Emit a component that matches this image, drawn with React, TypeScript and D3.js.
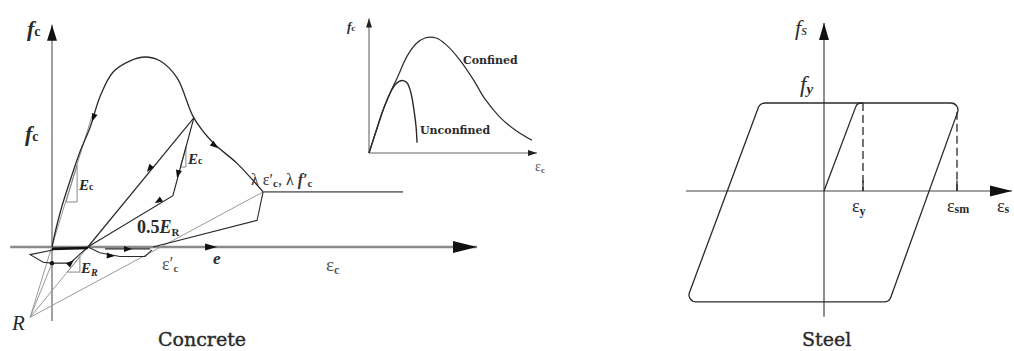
import React from "react";
import * as d3 from "d3";

type P = [number, number];

// ---------- Concrete: hysteretic model (strain in units of ε0/… , stress normalised by f'cc) ----------
const concreteEnvelope: P[] = [
  [0, 0], [0.09, 0.1], [0.22, 0.22], [0.39, 0.35], [0.6, 0.5], [0.82, 0.63],
  [1.03, 0.79], [1.31, 0.92], [1.68, 0.98], [2.0, 1.0], [2.32, 0.98],
  [2.69, 0.89], [3.05, 0.68], [3.46, 0.55], [3.98, 0.44], [4.54, 0.29],
];
const residualLevel: P[] = [[4.54, 0.29], [7.55, 0.29]];
const unloadDirect: P[] = [[3.05, 0.68], [0.77, 0]];
const unloadStepped: P[] = [[3.05, 0.68], [2.6, 0.27], [0.77, 0]];
const residualUnload: P[] = [[4.54, 0.29], [4.41, 0.14], [2.17, 0]];
const focalPoint: P = [-0.47, -0.37];
const focalRays: P[] = [[0.86, 0.69], [0, -0.085], [0.77, 0], [4.54, 0.29]];
const reverseLoop: P[] = [[0.02, -0.016], [-0.47, -0.04], [-0.19, -0.08], [0, -0.085], [0.39, -0.085], [0.77, 0]];
const crackClosing: P[] = [[0.77, 0], [1.03, -0.03], [1.46, -0.05], [2.0, -0.05], [2.15, -0.015]];
const closingStep: P[] = [[1.14, -0.01], [2.11, -0.01]];
const originSegment: P[] = [[0, -0.01], [0.77, -0.005]];
const turningDot: P = [0, -0.085];
const ecTriangle: P[] = [[0.3, 0.237], [0.54, 0.237], [0.54, 0.43]];
const ecUnloadTriangle: P[] = [[2.76, 0.421], [2.88, 0.421], [2.88, 0.527]];
const erTriangle: P[] = [[0.33, -0.132], [0.6, -0.132], [0.6, -0.05]];
const concreteArrows: { at: P; to: P }[] = [
  { at: [0.86, 0.66], to: [0.8, 0.62] },
  { at: [3.57, 0.52], to: [3.98, 0.44] },
  { at: [2.04, 0.395], to: [0.77, 0] },
  { at: [2.69, 0.363], to: [2.6, 0.27] },
  { at: [2.21, 0.23], to: [0.77, 0] },
  { at: [1.72, -0.01], to: [2.5, -0.01] },
  { at: [1.35, -0.047], to: [1.6, -0.05] },
  { at: [0.47, -0.068], to: [0.77, 0] },
];
const strainArrow: { at: P; to: P } = { at: [3.55, 0], to: [4.5, 0] };
const concreteXAxis: P[] = [[-0.9, 0], [9.14, 0]];
const concreteYAxis: P[] = [[0, -0.39], [0, 1.17]];

// ---------- Inset: confined vs unconfined ----------
const confinedCurve: P[] = [
  [0, 0], [0.04, 0.18], [0.083, 0.37], [0.125, 0.52], [0.167, 0.65], [0.226, 0.84],
  [0.28, 0.95], [0.333, 1.0], [0.4, 1.0], [0.46, 0.94], [0.54, 0.81], [0.62, 0.64],
  [0.69, 0.47], [0.78, 0.31], [0.87, 0.2], [0.97, 0.11],
];
const unconfinedCurve: P[] = [
  [0, 0], [0.04, 0.18], [0.083, 0.37], [0.125, 0.52], [0.16, 0.6], [0.196, 0.63],
  [0.226, 0.61], [0.25, 0.52], [0.268, 0.37], [0.28, 0.23], [0.286, 0.09],
];
const insetXAxis: P[] = [[0, 0], [1.0, 0]];
const insetYAxis: P[] = [[0, 0], [0, 1.17]];

// ---------- Steel: elastic–perfectly plastic loop (strain / εy, stress / fy) ----------
const steelLoop: P[] = [[-1.64, 1], [3.51, 1], [1.67, -1.26], [-3.54, -1.26]];
const steelFirstLoading: P[] = [[0, 0], [0.85, 1], [1.0, 1]];
const yieldStrainGuide: P[] = [[1, 1], [1, 0]];
const maxStrainGuide: P[] = [[3.41, 0.9], [3.41, 0]];
const steelXAxis: P[] = [[-3.54, 0], [4.82, 0]];
const steelYAxis: P[] = [[0, -1.43], [0, 1.91]];

// scales
const xC = d3.scaleLinear().domain([0, 2]).range([52, 145]);
const yC = d3.scaleLinear().domain([0, 1]).range([247, 57]);
const xI = d3.scaleLinear().domain([0, 1]).range([369, 537]);
const yI = d3.scaleLinear().domain([0, 1]).range([153, 38]);
const xS = d3.scaleLinear().domain([0, 1]).range([824, 863]);
const yS = d3.scaleLinear().domain([0, 1]).range([191, 103]);

type Sc = d3.ScaleLinear<number, number>;
const lineOf = (sx: Sc, sy: Sc, curve: d3.CurveFactory = d3.curveLinear) =>
  d3.line<P>().x((d) => sx(d[0])).y((d) => sy(d[1])).curve(curve);

function arrowHead(sx: Sc, sy: Sc, at: P, to: P, len: number, half: number) {
  const x = sx(at[0]), y = sy(at[1]);
  const a = Math.atan2(sy(to[1]) - y, sx(to[0]) - x);
  const c = Math.cos(a), s = Math.sin(a);
  const bx = x - c * len, by = y - s * len;
  return `M${x},${y}L${bx - s * half},${by + c * half}L${bx + s * half},${by - c * half}Z`;
}

function roundedPath(pts: P[], r: number, closed: boolean) {
  const p = d3.path();
  const n = pts.length;
  if (closed) {
    p.moveTo((pts[n - 1][0] + pts[0][0]) / 2, (pts[n - 1][1] + pts[0][1]) / 2);
    for (let i = 0; i < n; i++) {
      const a = pts[i], b = pts[(i + 1) % n];
      p.arcTo(a[0], a[1], b[0], b[1], r);
    }
    p.closePath();
  } else {
    p.moveTo(pts[0][0], pts[0][1]);
    for (let i = 1; i < n - 1; i++) p.arcTo(pts[i][0], pts[i][1], pts[i + 1][0], pts[i + 1][1], r);
    p.lineTo(pts[n - 1][0], pts[n - 1][1]);
  }
  return p.toString();
}

const ink = "#2a2a2a";
const grey = "#8a8a8a";
const serif = "'Liberation Serif', 'DejaVu Serif', serif";
const slab = "'DejaVu Serif', serif";

export default function App() {
  const lc = lineOf(xC, yC);
  const lcCurve = lineOf(xC, yC, d3.curveCatmullRom.alpha(0.5));
  const li = lineOf(xI, yI, d3.curveCatmullRom.alpha(0.5));
  const liStraight = lineOf(xI, yI);
  const ls = lineOf(xS, yS);
  const px = (sx: Sc, sy: Sc, pts: P[]) => pts.map((d) => [sx(d[0]), sy(d[1])] as P);

  return (
    <svg width={1014} height={351} style={{ position: "absolute", left: 0, top: 0, background: "#fff" }}>
      <rect width={1014} height={351} fill="#fff" />

      {/* ===== Concrete ===== */}
      <g fill="none">
        <path d={lc(concreteYAxis)!} stroke={grey} strokeWidth={1.6} />
        <path d={lc(concreteXAxis)!} stroke={grey} strokeWidth={2.6} />
        {focalRays.map((t, i) => (
          <path key={i} d={lc([focalPoint, t])!} stroke="#9a9a9a" strokeWidth={1} />
        ))}
        <path d={lc(ecTriangle)! + "Z"} stroke="#8a8a8a" strokeWidth={1} />
        <path d={lc(erTriangle)! + "Z"} stroke="#8a8a8a" strokeWidth={1} />
        <path d={lc(ecUnloadTriangle)! + "Z"} stroke="#777" strokeWidth={0.9} />
        <path d={lcCurve(concreteEnvelope)!} stroke={ink} strokeWidth={1.3} />
        <path d={lc(residualLevel)!} stroke="#777" strokeWidth={1.6} />
        <path d={lc(unloadDirect)!} stroke={ink} strokeWidth={1.2} />
        <path d={lc(unloadStepped)!} stroke={ink} strokeWidth={1.2} />
        <path d={lc(residualUnload)!} stroke={ink} strokeWidth={1.1} />
        <path d={lc(reverseLoop)!} stroke={ink} strokeWidth={1.1} />
        <path d={lc(crackClosing)!} stroke={ink} strokeWidth={1.1} />
        <path d={lc(closingStep)!} stroke={ink} strokeWidth={1.1} />
        <path d={lc(originSegment)!} stroke="#111" strokeWidth={2.6} />
      </g>
      <circle cx={xC(turningDot[0])} cy={yC(turningDot[1])} r={2.2} fill="#111" />
      {concreteArrows.map((a, i) => (
        <path key={i} d={arrowHead(xC, yC, a.at, a.to, 8, 3)} fill="#111" />
      ))}
      <path d={arrowHead(xC, yC, strainArrow.at, strainArrow.to, 12, 3.5)} fill="#111" />
      <path d={arrowHead(xC, yC, concreteXAxis[1], [10, 0], 24, 6)} fill="#111" />
      <path d={arrowHead(xC, yC, concreteYAxis[1], [0, 2], 16, 5)} fill="#111" />

      <g fill={ink} fontFamily={serif}>
        <text x={27} y={36} fontStyle="italic" fontWeight="bold" fontSize={22}>
          f<tspan fontSize={14} fontStyle="normal">c</tspan>
        </text>
        <text x={25} y={141} fontStyle="italic" fontWeight="bold" fontSize={22}>
          f<tspan fontSize={14} fontStyle="normal">c</tspan>
        </text>
        <text x={79} y={190} fontStyle="italic" fontWeight="bold" fontSize={15}>
          E<tspan fontSize={10} fontStyle="normal">c</tspan>
        </text>
        <text x={188} y={164} fontStyle="italic" fontWeight="bold" fontSize={15}>
          E<tspan fontSize={10} fontStyle="normal">c</tspan>
        </text>
        <text x={81} y={273} fontStyle="italic" fontWeight="bold" fontSize={15}>
          E<tspan fontSize={10} dy={3}>R</tspan>
        </text>
        <text x={137} y={233} fontWeight="bold" fontSize={18}>
          0.5<tspan fontStyle="italic">E</tspan>
          <tspan fontSize={11} dy={3}>R</tspan>
        </text>
        <text x={251} y={185} fontSize={16} fill="#333">
          λ ε′<tspan fontSize={11} dy={2} fontWeight="bold">c</tspan>
          <tspan dy={-2}>, λ </tspan>
          <tspan fontStyle="italic" fontWeight="bold">f′</tspan>
          <tspan fontSize={11} dy={2} fontWeight="bold">c</tspan>
        </text>
        <text x={162} y={270} fontSize={18} fill="#555">
          ε′<tspan fontSize={11} dy={2} fontWeight="bold">c</tspan>
        </text>
        <text x={213} y={264} fontSize={17} fontStyle="italic" fontWeight="bold">e</text>
        <text x={326} y={271} fontSize={19} fill="#555">
          ε<tspan fontSize={12} dy={3} fontWeight="bold">c</tspan>
        </text>
        <text x={12} y={330} fontSize={21} fontStyle="italic">R</text>
      </g>
      <text x={158} y={346} fontFamily={slab} fontSize={19} fill={ink} stroke={ink} strokeWidth={0.4}>Concrete</text>

      {/* ===== Inset ===== */}
      <g fill="none">
        <path d={liStraight(insetYAxis)!} stroke="#666" strokeWidth={1.1} />
        <path d={liStraight(insetXAxis)!} stroke="#666" strokeWidth={1.1} />
        <path d={li(unconfinedCurve)!} stroke={ink} strokeWidth={1.4} />
        <path d={li(confinedCurve)!} stroke={ink} strokeWidth={1.2} />
      </g>
      <path d={arrowHead(xI, yI, [0, 1.17], [0, 2], 9, 3)} fill="#222" />
      <path d={arrowHead(xI, yI, [1.0, 0], [2, 0], 9, 3)} fill="#222" />
      <g fill={ink} fontFamily={serif}>
        <text x={347} y={31} fontSize={13} fontStyle="italic" fontWeight="bold">
          f<tspan fontSize={9} fontStyle="normal">c</tspan>
        </text>
        <text x={535} y={171} fontSize={14} fill="#555">
          ε<tspan fontSize={9} dy={2} fontWeight="bold">c</tspan>
        </text>
      </g>
      <g fill={ink} fontFamily={slab} fontWeight="bold" fontSize={11}>
        <text x={463} y={64}>Confined</text>
        <text x={420} y={134}>Unconfined</text>
      </g>

      {/* ===== Steel ===== */}
      <g fill="none">
        <path d={ls(steelYAxis)!} stroke="#444" strokeWidth={1.2} />
        <path d={ls(steelXAxis)!} stroke="#444" strokeWidth={1.2} />
        <path d={roundedPath(px(xS, yS, steelLoop), 7, true)} stroke={ink} strokeWidth={1.3} />
        <path d={roundedPath(px(xS, yS, steelFirstLoading), 6, false)} stroke={ink} strokeWidth={1.3} />
        <path d={ls(yieldStrainGuide)!} stroke={ink} strokeWidth={1.3} strokeDasharray="8,4" />
        <path d={ls(maxStrainGuide)!} stroke={ink} strokeWidth={1.3} strokeDasharray="8,4" />
        <path d={ls([[1, 0.12], [1, 0]])!} stroke={ink} strokeWidth={1.3} />
        <path d={ls([[3.41, 0.12], [3.41, 0]])!} stroke={ink} strokeWidth={1.3} />
      </g>
      <path d={arrowHead(xS, yS, steelYAxis[1], [0, 3], 17, 5)} fill="#111" />
      <path d={arrowHead(xS, yS, steelXAxis[1], [6, 0], 22, 5.5)} fill="#111" />
      <g fill={ink} fontFamily={serif}>
        <text x={795} y={35} fontSize={22} fontStyle="italic">
          f<tspan fontSize={15}>s</tspan>
        </text>
        <text x={800} y={92} fontSize={23} fontStyle="italic">
          f<tspan fontSize={15} fontWeight="bold" dy={2}>y</tspan>
        </text>
        <text x={852} y={212} fontSize={18}>
          ε<tspan fontSize={12} fontWeight="bold" dy={3}>y</tspan>
        </text>
        <text x={947} y={212} fontSize={18}>
          ε<tspan fontSize={12} fontWeight="bold" dy={1}>sm</tspan>
        </text>
        <text x={997} y={212} fontSize={18}>
          ε<tspan fontSize={12} fontWeight="bold" dy={1}>s</tspan>
        </text>
      </g>
      <text x={802} y={346} fontFamily={slab} fontSize={19} fill={ink} stroke={ink} strokeWidth={0.4}>Steel</text>
    </svg>
  );
}
